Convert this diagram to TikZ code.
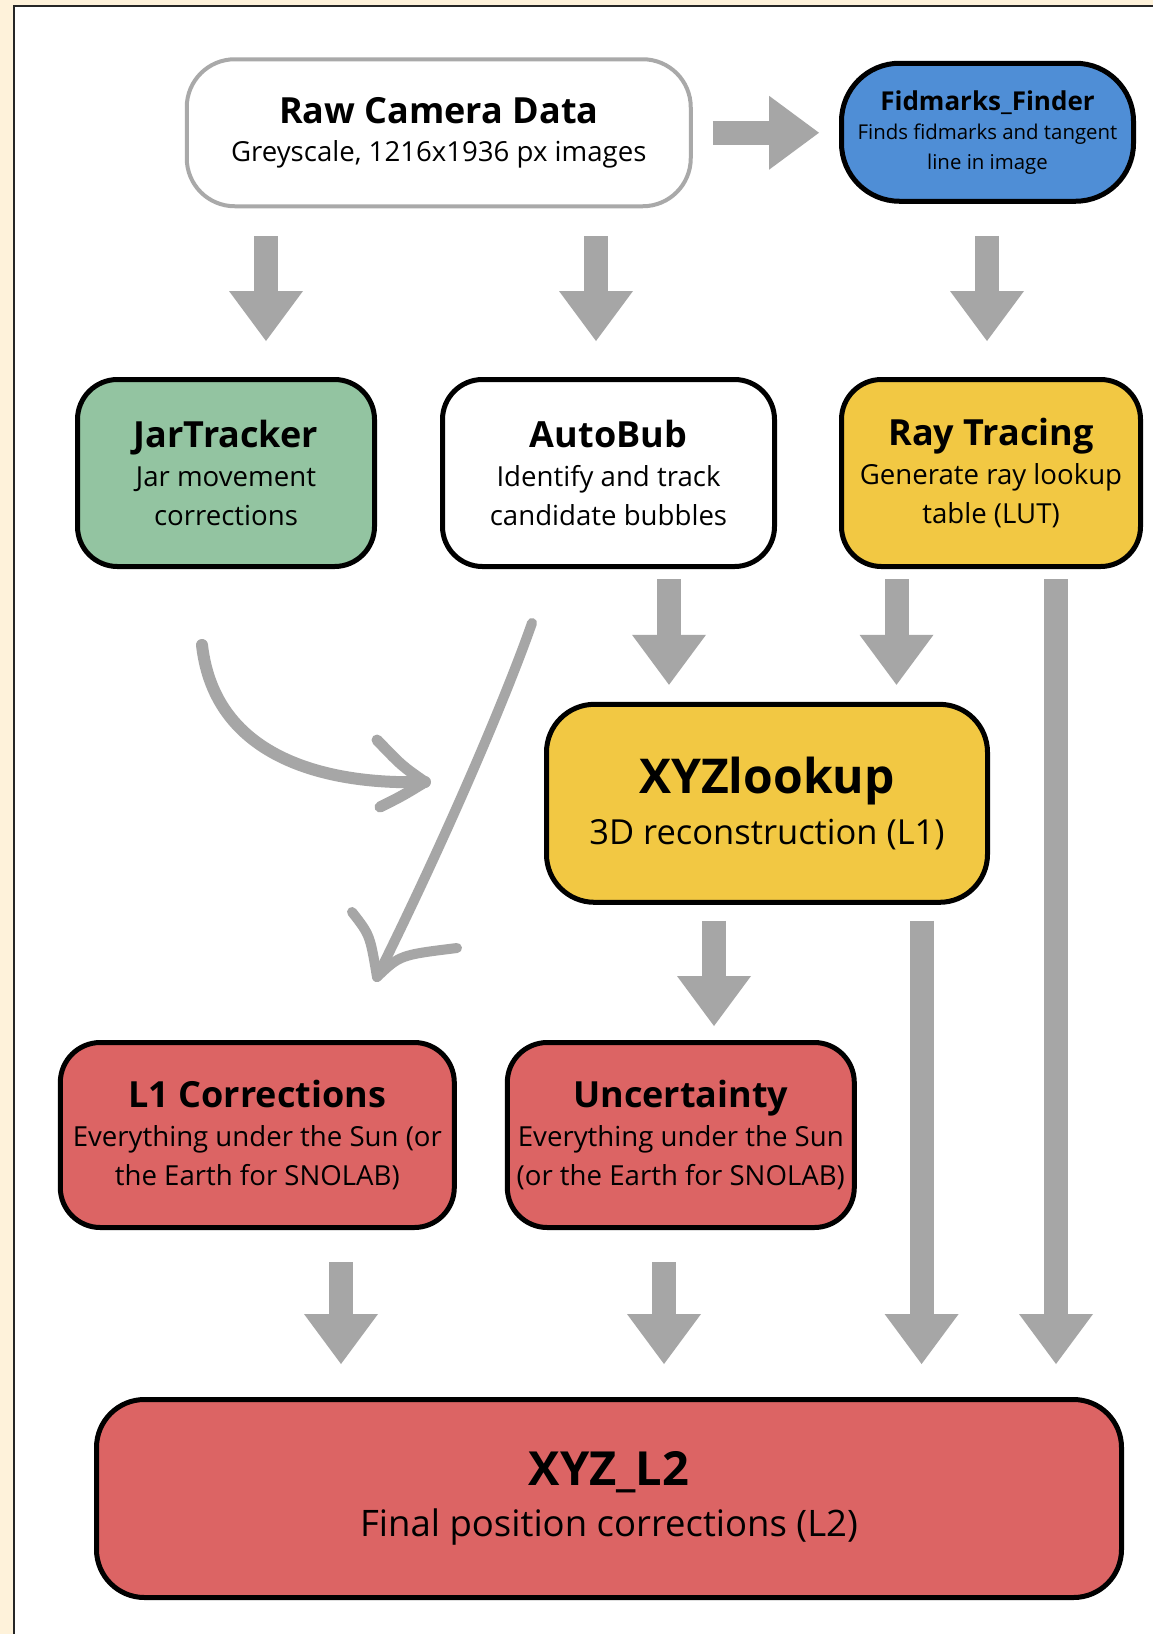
\documentclass[tikz,border=0pt]{standalone}
\usepackage{xcolor}
\usepackage{fontspec}
\setmainfont{Open Sans}
\usepackage{tikz}
\usetikzlibrary{calc, arrows.meta, positioning}

\definecolor{paper}{HTML}{FEF2DA}
\definecolor{frameline}{HTML}{262626}
\definecolor{arrowgrey}{HTML}{A6A6A6}
\definecolor{rawgrey}{HTML}{A9A9A9}
\definecolor{fidblue}{HTML}{4F8ED6}
\definecolor{jargreen}{HTML}{93C4A1}
\definecolor{rayyellow}{HTML}{F2C843}
\definecolor{corrred}{HTML}{DC6464}

\newcommand{\boxtitle}{\fontsize{36}{40}\selectfont\bfseries}
\newcommand{\boxsub}{\fontsize{27.6}{38.6}\selectfont}

\begin{document}
\begin{tikzpicture}[x=1pt, y=-1pt,
    box/.style={draw=black, line width=5pt, rounded corners=40pt, align=center,
                inner sep=0pt, text=black, font=\boxsub},
    fatarrow/.style={draw=arrowgrey, line width=24pt,
                -{Triangle[width=74pt, length=50pt, line width=0pt]}},
    sketch/.style={draw=arrowgrey, line width=10pt, line cap=round, line join=round}]

    % =================================================================
    % 1. PAGE AND FRAME
    % =================================================================
    \useasboundingbox (0,0) rectangle (1153,1634);
    \fill[paper] (0,0) rectangle (1153,1634);
    \fill[white] (14,6) rectangle (1153,1634);
    \draw[frameline, line width=2pt] (14,1634) -- (14,6) -- (1153,6);

    % =================================================================
    % 2. BOXES
    % =================================================================
    \node[box, draw=rawgrey, line width=4pt, fill=white, rounded corners=48pt,
          minimum width=504pt, minimum height=147pt] (raw) at (438.75,132.75)
        {{\boxtitle Raw Camera Data}\\Greyscale, 1216x1936 px images};
    \node[box, fill=fidblue, rounded corners=58pt, font=\fontsize{20.4}{29.5}\selectfont,
          minimum width=292pt, minimum height=138pt] (fid) at (987.5,132.25)
        {{\fontsize{26}{29}\selectfont\bfseries Fidmarks\_Finder}\\
         Finds fidmarks and tangent\\line in image};

    \node[box, fill=jargreen, minimum width=297pt, minimum height=187pt] (jar) at (226,473)
        {{\boxtitle JarTracker}\\Jar movement\\corrections};
    \node[box, fill=white, minimum width=332pt, minimum height=187pt] (auto) at (608.5,473)
        {{\boxtitle AutoBub}\\Identify and track\\candidate bubbles};
    \node[box, fill=rayyellow, minimum width=299pt, minimum height=187pt] (ray) at (991,473)
        {{\boxtitle Ray Tracing}\\Generate ray lookup\\table (LUT)};

    \node[box, fill=rayyellow, rounded corners=48pt, font=\fontsize{34.5}{51}\selectfont,
          minimum width=441pt, minimum height=198pt] (xyz) at (767,803.3)
        {{\fontsize{48}{51}\selectfont\bfseries XYZlookup}\\3D reconstruction (L1)};

    \node[box, fill=corrred, minimum width=394pt, minimum height=185pt] (lone) at (257.3,1135)
        {{\boxtitle L1 Corrections}\\Everything under the Sun (or\\the Earth for SNOLAB)};
    \node[box, fill=corrred, minimum width=347pt, minimum height=185pt] (unc) at (680.8,1135)
        {{\boxtitle Uncertainty}\\Everything under the Sun\\(or the Earth for SNOLAB)};

    \node[box, fill=corrred, rounded corners=48pt, font=\fontsize{36.5}{51}\selectfont,
          minimum width=1025pt, minimum height=198pt] (ltwo) at (609,1498.5)
        {{\fontsize{47}{51}\selectfont\bfseries XYZ\_L2}\\Final position corrections (L2)};

    % =================================================================
    % 3. GREY BLOCK ARROWS
    % =================================================================
    \coordinate (cA) at (266,0);
    \coordinate (cB) at (596,0);
    \coordinate (cC) at (987,0);
    \coordinate (cD) at (669,0);
    \coordinate (cE) at (896.5,0);
    \coordinate (cF) at (1056,0);
    \coordinate (cG) at (714,0);
    \coordinate (cH) at (921.6,0);
    \coordinate (cI) at (341,0);
    \coordinate (cJ) at (664,0);

    \draw[fatarrow, shorten <=20pt, shorten >=20pt] (raw.east) -- (fid.west |- raw.east);

    \draw[fatarrow, shorten <=28pt, shorten >=36pt] (raw.south -| cA) -- (jar.north -| cA);
    \draw[fatarrow, shorten <=28pt, shorten >=36pt] (raw.south -| cB) -- (auto.north -| cB);
    \draw[fatarrow, shorten <=32pt, shorten >=36pt] (fid.south -| cC) -- (ray.north -| cC);

    \draw[fatarrow, shorten <=10pt, shorten >=17pt] (auto.south -| cD) -- (xyz.north -| cD);
    \draw[fatarrow, shorten <=10pt, shorten >=17pt] (ray.south -| cE) -- (xyz.north -| cE);
    \draw[fatarrow, shorten <=10pt, shorten >=33pt] (ray.south -| cF) -- (ltwo.north -| cF);

    \draw[fatarrow, shorten <=16pt, shorten >=14pt] (xyz.south -| cG) -- (unc.north -| cG);
    \draw[fatarrow, shorten <=16pt, shorten >=33pt] (xyz.south -| cH) -- (ltwo.north -| cH);

    \draw[fatarrow, shorten <=32pt, shorten >=33pt] (lone.south -| cI) -- (ltwo.north -| cI);
    \draw[fatarrow, shorten <=32pt, shorten >=33pt] (unc.south -| cJ) -- (ltwo.north -| cJ);

    % =================================================================
    % 4. HAND DRAWN ARROWS
    % =================================================================
    \coordinate (jarFrom) at (202,645);
    \coordinate (jarTo) at (425,782);
    \draw[sketch, line width=12pt] (jarFrom) .. controls (215,760) and (330,785) .. (jarTo);
    \draw[sketch, line width=11pt] (377,740) .. controls (402,766) .. (jarTo) .. controls (402,796) .. (380,807);

    \coordinate (autoFrom) at (532,623);
    \coordinate (autoTo) at (377,977);
    \draw[sketch] (autoFrom) .. controls (505,700) and (445,840) .. (autoTo);
    \draw[sketch] (352,912) .. controls (370,935) .. (autoTo) .. controls (400,955) .. (457,948);

\end{tikzpicture}
\end{document}
